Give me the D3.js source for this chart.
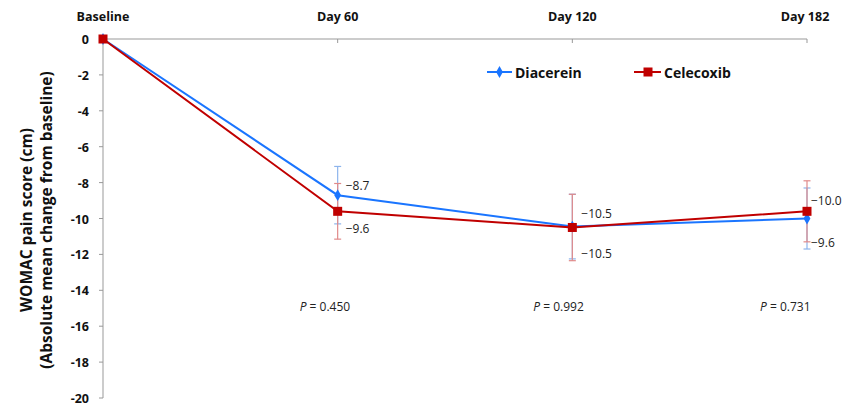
<!DOCTYPE html>
<html><head><meta charset="utf-8">
<script src="https://cdn.jsdelivr.net/npm/d3@7"></script>
<style>
body{margin:0;background:#fff;}
text{font-family:"Open Sans",Lato,sans-serif;}
</style></head>
<body>
<svg id="c" width="844" height="406"></svg>
<script>
const categories = ["Baseline","Day 60","Day 120","Day 182"];
const diacerein = [0, -8.7, -10.45, -10.0];
const diacereinErr = [0, 1.6, 1.8, 1.7];
const celecoxib = [0, -9.6, -10.5, -9.6];
const celecoxibErr = [0, 1.55, 1.85, 1.7];
const diacereinLabels = [null, "\u22128.7", "\u221210.5", "\u22129.6"];
const celecoxibLabels = [null, "\u22129.6", "\u221210.5", "\u221210.0"];
const pValues = [null, "0.450", "0.992", "0.731"];
const yTicks = [0,-2,-4,-6,-8,-10,-12,-14,-16,-18,-20];

const svg = d3.select("#c");
const x = d3.scalePoint().domain(categories).range([103, 807]);
const y = d3.scaleLinear().domain([0, -20]).range([39, 398]);
const blue = "#1a75ff", red = "#c00000";
const blueLight = "#8db4ec", redLight = "#e08a8a";

// x axis at top
svg.append("line").attr("x1",103).attr("x2",807).attr("y1",y(0)).attr("y2",y(0))
  .attr("stroke","#999").attr("stroke-width",1);
categories.forEach(c=>{
  svg.append("line").attr("x1",x(c)).attr("x2",x(c)).attr("y1",y(0)).attr("y2",y(0)+4)
    .attr("stroke","#999");
});
svg.selectAll(".xl").data(categories).join("text")
  .attr("x",d=>d==="Day 182"?x(d)-2:x(d)).attr("y",21).attr("text-anchor","middle")
  .attr("font-size",12.5).attr("font-weight","bold").attr("fill","#111").text(d=>d);

// y axis
svg.append("line").attr("x1",103).attr("x2",103).attr("y1",y(0)).attr("y2",y(-20))
  .attr("stroke","#999");
svg.selectAll(".yt").data(yTicks).join("line")
  .attr("x1",99).attr("x2",103).attr("y1",d=>y(d)).attr("y2",d=>y(d)).attr("stroke","#999");
svg.selectAll(".yl").data(yTicks).join("text")
  .attr("x",89).attr("y",d=>y(d)+5).attr("text-anchor","end")
  .attr("font-size",12.5).attr("font-weight","bold").attr("fill","#111")
  .text(d=>d===0?"0":"-"+Math.abs(d));

// y title
const yt = svg.append("text").attr("transform","translate(32,220) rotate(-90)")
  .attr("text-anchor","middle").attr("font-size",15.5).attr("font-weight","bold").attr("fill","#111");
yt.append("tspan").attr("x",0).attr("y",0).text("WOMAC pain score (cm)");
yt.append("tspan").attr("x",0).attr("y",20).text("(Absolute mean change from baseline)");

// error bars
function errBars(vals, errs, color){
  vals.forEach((v,i)=>{
    if(!errs[i]) return;
    const cx = x(categories[i]);
    svg.append("line").attr("x1",cx).attr("x2",cx).attr("y1",y(v+errs[i])).attr("y2",y(v-errs[i]))
      .attr("stroke",color).attr("stroke-width",1.2);
    [v+errs[i], v-errs[i]].forEach(e=>{
      svg.append("line").attr("x1",cx-3.5).attr("x2",cx+3.5).attr("y1",y(e)).attr("y2",y(e))
        .attr("stroke",color).attr("stroke-width",1.2);
    });
  });
}
errBars(diacerein, diacereinErr, blueLight);
errBars(celecoxib, celecoxibErr, redLight);

const line = d3.line().x((d,i)=>x(categories[i])).y(d=>y(d));
svg.append("path").datum(diacerein).attr("d",line).attr("fill","none").attr("stroke",blue).attr("stroke-width",2);
svg.append("path").datum(celecoxib).attr("d",line).attr("fill","none").attr("stroke",red).attr("stroke-width",2);

const diamond = d3.symbol().type(d3.symbolDiamond).size(40);
svg.selectAll(".dm").data(diacerein).join("path")
  .attr("d",diamond).attr("transform",(d,i)=>`translate(${x(categories[i])},${y(d)})`).attr("fill",blue);
svg.selectAll(".sq").data(celecoxib).join("rect")
  .attr("x",(d,i)=>x(categories[i])-4.5).attr("y",d=>y(d)-4.5).attr("width",9).attr("height",9).attr("fill",red);

// data labels (placed above/below as in original)
const lbl = (tx, xx, yy)=>svg.append("text").attr("x",xx).attr("y",yy).attr("font-size",12).attr("fill","#222").text(tx);
lbl(diacereinLabels[1], x("Day 60")+8, y(-8.7)-5);
lbl(celecoxibLabels[1], x("Day 60")+8, y(-9.6)+22);
lbl(diacereinLabels[2], x("Day 120")+9, y(-10.5)-9);
lbl(celecoxibLabels[2], x("Day 120")+9, y(-10.5)+31);
lbl(celecoxibLabels[3], x("Day 182")+4, y(-9.6)-6);
lbl(diacereinLabels[3], x("Day 182")+4, y(-10.0)+28);

// P values
const pOff = [0,-38,-39,-47];
pValues.forEach((p,i)=>{
  if(!p) return;
  const t = svg.append("text").attr("x",x(categories[i])+pOff[i]).attr("y",311)
    .attr("font-size",12).attr("fill","#222");
  t.append("tspan").attr("font-style","italic").text("P");
  t.append("tspan").text(" = "+p);
});

// legend
const lg = svg.append("g");
lg.append("line").attr("x1",487).attr("x2",512).attr("y1",72).attr("y2",72).attr("stroke",blue).attr("stroke-width",2);
lg.append("path").attr("d",diamond).attr("transform","translate(499.5,72)").attr("fill",blue);
lg.append("text").attr("x",515).attr("y",77.5).attr("font-size",14).attr("font-weight","bold").attr("fill","#111").text("Diacerein");
lg.append("line").attr("x1",634).attr("x2",661).attr("y1",72).attr("y2",72).attr("stroke",red).attr("stroke-width",2);
lg.append("rect").attr("x",643.5).attr("y",67.5).attr("width",9).attr("height",9).attr("fill",red);
lg.append("text").attr("x",664).attr("y",77.5).attr("font-size",14).attr("font-weight","bold").attr("fill","#111").text("Celecoxib");
</script>
</body></html>
